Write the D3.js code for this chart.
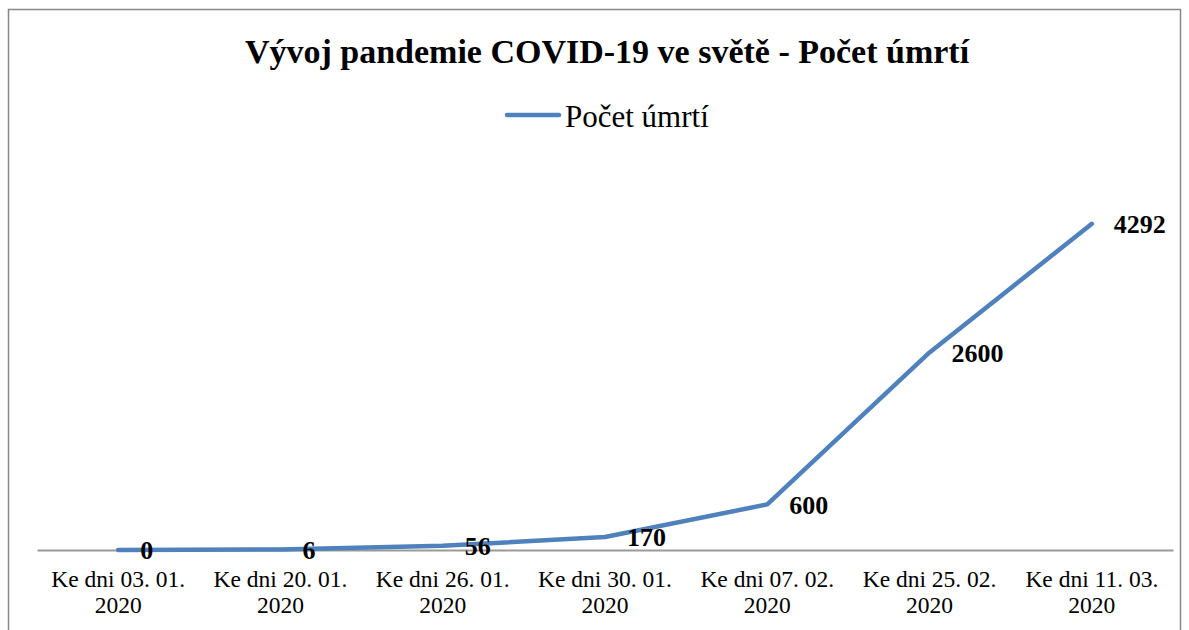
<!DOCTYPE html>
<html>
<head>
<meta charset="utf-8">
<script src="https://cdn.jsdelivr.net/npm/d3@7"></script>
<style>
  body { margin: 0; background: #fff; }
  text { font-family: "Liberation Serif", "Times New Roman", serif; }
</style>
</head>
<body>
<div id="chart"></div>
<script>
// data
var dates = ["Ke dni 03. 01.", "Ke dni 20. 01.", "Ke dni 26. 01.", "Ke dni 30. 01.",
             "Ke dni 07. 02.", "Ke dni 25. 02.", "Ke dni 11. 03."];
var years = ["2020", "2020", "2020", "2020", "2020", "2020", "2020"];
var deaths = [0, 6, 56, 170, 600, 2600, 4292];

var svgWidth = 1189;
var svgHeight = 630;

var margin = { top: 170, right: 16, bottom: 80, left: 37 };

var svg = d3.select("#chart")
  .append("svg")
    .attr("width", svgWidth)
    .attr("height", svgHeight);

// outer frame
svg.append("rect")
  .attr("x", 8.5)
  .attr("y", 9.5)
  .attr("width", 1172)
  .attr("height", 640)
  .attr("fill", "none")
  .attr("stroke", "#878787")
  .attr("stroke-width", 1.5);

var xScale = d3.scaleBand()
  .domain(d3.range(dates.length))
  .range([margin.left, svgWidth - margin.right]);

var yScale = d3.scaleLinear()
  .domain([0, 5000])
  .range([svgHeight - margin.bottom, margin.top]);

var xc = i => xScale(i) + xScale.bandwidth() / 2;

// title
svg.append("text")
  .attr("x", 607)
  .attr("y", 63)
  .attr("text-anchor", "middle")
  .style("font-size", "34px")
  .style("font-weight", "bold")
  .text("Vývoj pandemie COVID-19 ve světě - Počet úmrtí");

// legend
svg.append("line")
  .attr("x1", 507).attr("x2", 559)
  .attr("y1", 115).attr("y2", 115)
  .attr("stroke", "#4F81BD")
  .attr("stroke-width", 4.5)
  .attr("stroke-linecap", "round");
svg.append("text")
  .attr("x", 565)
  .attr("y", 127)
  .style("font-size", "31px")
  .text("Počet úmrtí");

// x axis
var xAxis = svg.append("g")
  .attr("transform", `translate(0, ${yScale(0)})`)
  .call(d3.axisBottom(xScale).tickSize(0).tickFormat(""));
xAxis.select(".domain")
  .attr("stroke", "#9a9a9a")
  .attr("stroke-width", 2);

var ticks = svg.append("g").selectAll("text")
  .data(dates)
  .enter().append("text")
    .attr("text-anchor", "middle")
    .attr("x", (d, i) => xc(i))
    .attr("y", 587)
    .style("font-size", "23.5px");
ticks.append("tspan")
  .attr("x", (d, i) => xc(i))
  .text(d => d);
ticks.append("tspan")
  .attr("x", (d, i) => xc(i))
  .attr("dy", 26)
  .text((d, i) => years[i]);

// line
var line = d3.line()
  .x((d, i) => xc(i))
  .y(d => yScale(d));

svg.append("path")
  .datum(deaths)
  .attr("d", line)
  .attr("fill", "none")
  .attr("stroke", "#4F81BD")
  .attr("stroke-width", 4.5)
  .attr("stroke-linecap", "round")
  .attr("stroke-linejoin", "round");

// value labels
svg.append("g").selectAll("text")
  .data(deaths)
  .enter().append("text")
    .attr("x", (d, i) => xc(i) + 22)
    .attr("y", d => yScale(d))
    .attr("dy", "0.35em")
    .style("font-size", "26px")
    .style("font-weight", "bold")
    .text(d => d);
</script>
</body>
</html>
